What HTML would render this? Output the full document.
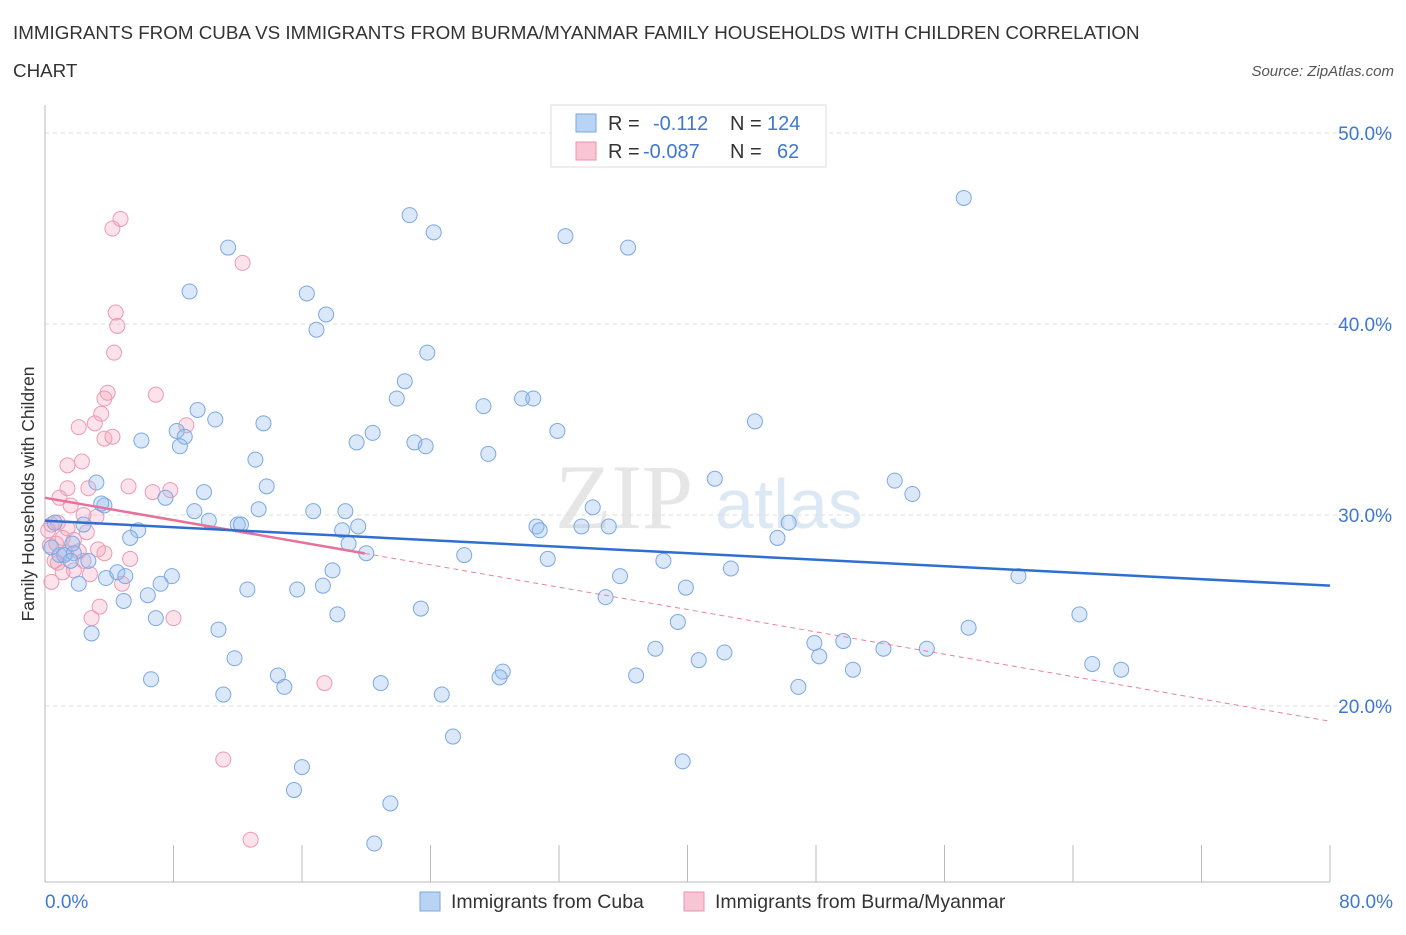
<!DOCTYPE html>
<html><head><meta charset="utf-8"><style>
body{margin:0;background:#fff;font-family:"Liberation Sans",sans-serif;}
</style></head><body>
<svg width="1406" height="930" xmlns="http://www.w3.org/2000/svg" font-family="Liberation Sans, sans-serif">
<text x="13" y="39" font-size="18.8" fill="#333">IMMIGRANTS FROM CUBA VS IMMIGRANTS FROM BURMA/MYANMAR FAMILY HOUSEHOLDS WITH CHILDREN CORRELATION</text>
<text x="13" y="77" font-size="18.8" fill="#333">CHART</text>
<text x="1394" y="76" font-size="15" fill="#555" font-style="italic" text-anchor="end">Source: ZipAtlas.com</text>
<text x="555" y="528" font-size="92" fill="#e6e6e6" font-family="Liberation Serif, serif">ZIP</text>
<text x="715" y="528" font-size="70" fill="#dde8f5">atlas</text>
<g id="grid"></g>
<g id="axes"></g>
<g id="marks"></g>
<text transform="translate(34,494) rotate(-90)" font-size="17.5" fill="#333" text-anchor="middle">Family Households with Children</text>
<g>
<rect x="551" y="105" width="275" height="62" fill="#fff" stroke="#ddd"/>
<rect x="576" y="114" width="20" height="18" fill="#b9d3f5" stroke="#7aa7e0"/>
<rect x="576" y="142" width="20" height="18" fill="#f8c5d4" stroke="#eb94ae"/>
<text x="608" y="130" font-size="20" fill="#333">R =</text>
<text x="653" y="130" font-size="20" fill="#3f78d0">-0.112</text>
<text x="730" y="130" font-size="20" fill="#333">N =</text>
<text x="767" y="130" font-size="20" fill="#3f78d0">124</text>
<text x="608" y="158" font-size="20" fill="#333">R =</text>
<text x="643" y="158" font-size="20" fill="#3f78d0">-0.087</text>
<text x="730" y="158" font-size="20" fill="#333">N =</text>
<text x="777" y="158" font-size="20" fill="#3f78d0">62</text>
</g>
<g>
<rect x="420" y="892" width="20" height="19" fill="#b9d3f5" stroke="#7aa7e0"/>
<text x="451" y="908" font-size="19.5" fill="#333">Immigrants from Cuba</text>
<rect x="684" y="892" width="20" height="19" fill="#f8c5d4" stroke="#eb94ae"/>
<text x="715" y="908" font-size="19.5" fill="#333">Immigrants from Burma/Myanmar</text>
</g>
</svg>
<script>
const cubaX=[57.2,22.7,24.2,32.4,36.3,11.4,9.0,16.3,17.5,16.9,23.8,22.4,21.9,27.3,29.7,30.4,9.5,10.6,13.6,44.2,8.2,8.7,8.4,6.0,20.4,19.4,23.0,23.7,27.6,31.9,13.1,13.8,41.7,52.9,54.0,3.2,9.9,7.5,3.7,3.5,34.1,9.3,13.3,16.7,18.7,10.2,12.0,12.2,5.8,2.4,19.5,18.5,30.6,30.8,33.4,35.1,46.3,45.6,5.3,18.9,20.0,26.1,31.3,38.5,2.7,0.9,1.2,1.8,1.6,3.8,4.5,5.0,7.9,7.2,2.1,42.7,60.6,35.8,17.9,17.3,15.7,12.6,39.9,34.9,4.9,6.4,18.2,23.4,6.9,64.4,39.4,2.9,10.8,57.5,47.9,49.7,38.0,52.2,54.9,42.3,40.7,48.2,50.3,65.2,67.0,6.6,14.5,14.9,20.9,28.5,28.3,36.8,46.9,11.1,24.7,11.8,25.4,39.7,16.0,15.5,21.5,20.5,1.7,0.6,0.4];
const cubaY=[46.6,45.7,44.8,44.6,44.0,44.0,41.7,41.6,40.5,39.7,38.5,37.0,36.1,35.7,36.1,36.1,35.5,35.0,34.8,34.9,34.4,34.1,33.6,33.9,34.3,33.8,33.8,33.6,33.2,34.4,32.9,31.5,31.9,31.8,31.1,31.7,31.2,30.9,30.5,30.6,30.4,30.2,30.3,30.2,30.2,29.7,29.5,29.5,29.2,29.5,29.4,29.2,29.4,29.2,29.4,29.4,29.6,28.8,28.8,28.5,28.0,27.9,27.7,27.6,27.6,27.9,27.9,28.0,27.6,26.7,27.0,26.8,26.8,26.4,26.4,27.2,26.8,26.8,27.1,26.3,26.1,26.1,26.2,25.7,25.5,25.8,24.8,25.1,24.6,24.8,24.4,23.8,24.0,24.1,23.3,23.4,23.0,23.0,23.0,22.8,22.4,22.6,21.9,22.2,21.9,21.4,21.6,21.0,21.2,21.8,21.5,21.6,21.0,20.6,20.6,22.5,18.4,17.1,16.8,15.6,14.9,12.8,28.5,29.6,28.3];
const burmaX=[4.7,4.2,12.3,4.4,4.5,4.3,3.9,6.9,3.7,3.5,2.1,3.1,8.8,3.7,4.2,1.4,2.3,5.2,2.7,6.7,7.8,1.4,0.9,1.6,3.2,2.4,0.8,0.4,1.4,2.6,1.1,1.8,0.3,2.1,3.3,5.3,1.3,3.7,0.6,0.8,2.4,1.8,2.8,1.1,4.8,0.4,3.4,2.9,8.0,17.4,11.1,12.8,0.2,0.7];
const burmaY=[45.5,45.0,43.2,40.6,39.9,38.5,36.4,36.3,36.1,35.3,34.6,34.8,34.7,34.0,34.1,32.6,32.8,31.5,31.4,31.2,31.3,31.4,30.9,30.5,29.9,30.0,29.6,29.5,29.3,29.1,28.8,28.7,28.4,28.1,28.2,27.7,28.0,28.0,27.6,27.5,27.6,27.1,26.9,27.0,26.4,26.5,25.2,24.6,24.6,21.2,17.2,13.0,29.2,28.5];
const yTicks=[20,30,40,50];
const yTickLabels=["20.0%","30.0%","40.0%","50.0%"];
const xTicks=[0,8,16,24,32,40,48,56,64,72,80];
const cubaTrend=[29.7,26.3];   // value at x=0 and x=80
const burmaTrend=[30.9,19.2];
const burmaSolidEnd=19.9;

const X0=45,X1=1330,Y50=133,PX10=19.1,YB=882;
const sx=v=>X0+(v/80)*(X1-X0);
const sy=v=>Y50+(50-v)*PX10;
const NS="http://www.w3.org/2000/svg";
function mk(tag,attrs,parent){const e=document.createElementNS(NS,tag);for(const k in attrs)e.setAttribute(k,attrs[k]);parent.appendChild(e);return e;}
const grid=document.getElementById('grid'),axes=document.getElementById('axes'),marks=document.getElementById('marks');
yTicks.forEach((t,i)=>{
  const l=mk('line',{x1:X0,x2:1392,y1:sy(t),y2:sy(t),stroke:'#ddd','stroke-dasharray':'4,4'},grid);
  
  
  const tx=mk('text',{x:1392,y:sy(t)+7,'font-size':19,fill:'#3f78d0','text-anchor':'end'},grid);
  tx.textContent=yTickLabels[i];
  
  
});
const ya=mk('line',{x1:X0,x2:X0,y1:105,y2:YB,stroke:'#bbb'},axes);


const xa=mk('line',{x1:X0,x2:X1,y1:YB,y2:YB,stroke:'#bbb'},axes);


xTicks.forEach(t=>{
  const l=mk('line',{x1:sx(t),x2:sx(t),y1:845,y2:YB,stroke:'#bbb'},axes);
  
  
});
const xl0=mk('text',{x:45,y:908,'font-size':19,fill:'#3f78d0'},axes);xl0.textContent='0.0%';


const xl1=mk('text',{x:1393,y:908,'font-size':19,fill:'#3f78d0','text-anchor':'end'},axes);xl1.textContent='80.0%';



burmaX.forEach((v,i)=>{
  const c=mk('circle',{cx:sx(v),cy:sy(burmaY[i]),r:7.5,fill:'rgba(244,160,186,0.3)',stroke:'#ec9ab3','stroke-width':1},marks);
  
  
});
cubaX.forEach((v,i)=>{
  const c=mk('circle',{cx:sx(v),cy:sy(cubaY[i]),r:7.5,fill:'rgba(150,190,240,0.35)',stroke:'#7ba8e2','stroke-width':1},marks);
  
  
});
const by=x=>burmaTrend[0]+(burmaTrend[1]-burmaTrend[0])*x/80;
const bd=mk('line',{x1:sx(burmaSolidEnd),y1:sy(by(burmaSolidEnd)),x2:sx(80),y2:sy(burmaTrend[1]),stroke:'#e8819f','stroke-width':1,'stroke-dasharray':'5,4'},marks);


const bs=mk('line',{x1:sx(0),y1:sy(burmaTrend[0]),x2:sx(burmaSolidEnd),y2:sy(by(burmaSolidEnd)),stroke:'#e8719a','stroke-width':2.5},marks);


const ct=mk('line',{x1:sx(0),y1:sy(cubaTrend[0]),x2:sx(80),y2:sy(cubaTrend[1]),stroke:'#2f6fd0','stroke-width':2.5},marks);


</script>
</body></html>
